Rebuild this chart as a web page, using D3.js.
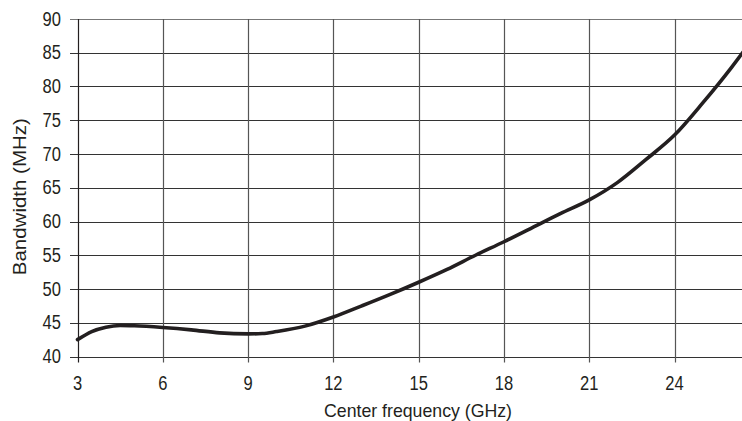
<!DOCTYPE html>
<html>
<head>
<meta charset="utf-8">
<script src="https://cdn.jsdelivr.net/npm/d3@7"></script>
<style>
  body { margin: 0; background: #fff; }
  text { font-family: "Liberation Sans", Arial, sans-serif; fill: #231f20; }
</style>
</head>
<body>
<script>
// Center frequency (GHz)
const frequency = [3, 3.5, 4, 4.5, 5, 6, 7, 8, 9, 9.5, 10, 11, 12, 13, 14, 15, 16, 17, 18, 19, 20, 21, 22, 23, 24, 25, 26, 26.5];
// Bandwidth (MHz)
const bandwidth = [42.5, 43.7, 44.35, 44.6, 44.55, 44.3, 43.95, 43.5, 43.35, 43.4, 43.7, 44.5, 45.85, 47.5, 49.2, 51, 52.9, 55, 57, 59.1, 61.2, 63.2, 65.8, 69.2, 72.8, 77.6, 82.8, 85.6];

const xTicks = [3, 6, 9, 12, 15, 18, 21, 24];
const yTicks = [40, 45, 50, 55, 60, 65, 70, 75, 80, 85, 90];

const width = 742;
const height = 421;

const svg = d3.create("svg")
  .attr("width", width)
  .attr("height", height)
  .attr("viewBox", `0 0 ${width} ${height}`);

const x = d3.scaleLinear().domain([3, 26.5]).range([77.5, 745.6]);
const y = d3.scaleLinear().domain([40, 90]).range([356.5, 19]);

// horizontal grid + left ticks
svg.append("g")
  .selectAll("line")
  .data(yTicks)
  .join("line")
  .attr("x1", 70)
  .attr("x2", width)
  .attr("y1", d => Math.round(y(d)) + 0.5)
  .attr("y2", d => Math.round(y(d)) + 0.5)
  .attr("stroke", d => d === 90 ? "#777" : "#333")
  .attr("stroke-width", 1.2);

// vertical grid + bottom ticks
svg.append("g")
  .selectAll("line")
  .data(xTicks)
  .join("line")
  .attr("x1", d => Math.round(x(d)) + 0.5)
  .attr("x2", d => Math.round(x(d)) + 0.5)
  .attr("y1", y(90))
  .attr("y2", y(40) + 6)
  .attr("stroke", d => d === 3 ? "#231f20" : "#555")
  .attr("stroke-width", 1.2);

// tick labels (condensed look via textLength)
svg.append("g")
  .selectAll("text")
  .data(yTicks)
  .join("text")
  .attr("x", 61)
  .attr("y", d => y(d) + 6.6)
  .attr("text-anchor", "end")
  .attr("font-size", 19.5)
  .attr("textLength", d => String(d).length * 9.2)
  .attr("lengthAdjust", "spacingAndGlyphs")
  .text(d => d);

svg.append("g")
  .selectAll("text")
  .data(xTicks)
  .join("text")
  .attr("x", d => x(d))
  .attr("y", 389.5)
  .attr("text-anchor", "middle")
  .attr("font-size", 19.5)
  .attr("textLength", d => String(d).length * 9.2)
  .attr("lengthAdjust", "spacingAndGlyphs")
  .text(d => d);

// axis titles
svg.append("text")
  .attr("x", 418)
  .attr("y", 416.5)
  .attr("text-anchor", "middle")
  .attr("font-size", 19)
  .attr("textLength", 188)
  .attr("lengthAdjust", "spacingAndGlyphs")
  .text("Center frequency (GHz)");

svg.append("text")
  .attr("transform", "translate(26, 196.7) rotate(-90)")
  .attr("text-anchor", "middle")
  .attr("font-size", 18)
  .attr("textLength", 157)
  .attr("lengthAdjust", "spacingAndGlyphs")
  .text("Bandwidth (MHz)");

// curve
const line = d3.line()
  .x((d, i) => x(frequency[i]))
  .y(d => y(d))
  .curve(d3.curveMonotoneX);

svg.append("path")
  .datum(bandwidth)
  .attr("fill", "none")
  .attr("stroke", "#231f20")
  .attr("stroke-width", 3.6)
  .attr("stroke-linecap", "round")
  .attr("d", line);

document.body.append(svg.node());
</script>
</body>
</html>
